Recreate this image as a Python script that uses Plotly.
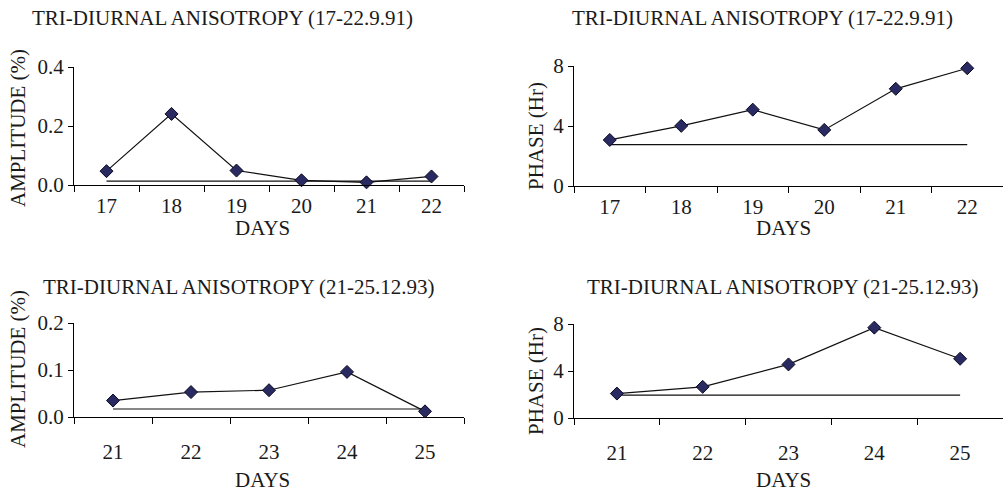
import plotly.graph_objects as go

W, H = 1003, 493
FONT = "Liberation Serif"
TXT = "#1a1a1a"
MARK = "#2a2a62"

# ---- data ----
days_a = ["17", "18", "19", "20", "21", "22"]
amp_a = [0.047, 0.241, 0.049, 0.016, 0.009, 0.029]
amp_a_ref = 0.013
phase_a = [3.07, 4.01, 5.09, 3.74, 6.48, 7.85]
phase_a_ref = 2.76

days_b = ["21", "22", "23", "24", "25"]
amp_b = [0.035, 0.053, 0.057, 0.096, 0.012]
amp_b_ref = 0.017
phase_b = [2.08, 2.65, 4.56, 7.69, 5.04]
phase_b_ref = 1.94

title_a = "TRI-DIURNAL ANISOTROPY (17-22.9.91)"
title_b = "TRI-DIURNAL ANISOTROPY (21-25.12.93)"
amp_label = "AMPLITUDE (%)"
phase_label = "PHASE (Hr)"
x_label = "DAYS"

amp_a_ticks = [0.0, 0.2, 0.4]
phase_ticks = [0, 4, 8]
amp_b_ticks = [0.0, 0.1, 0.2]

def px(x):
    return x / W

def py(y):
    return 1 - y / H

panels = [
    # (xcats, yvals, ref, yticks, ytickfmt, xdom(px), ydom(px top,bottom), standoff)
    (days_a, amp_a, amp_a_ref, amp_a_ticks, ".1f", (74, 464), (67, 185), 2),
    (days_a, phase_a, phase_a_ref, phase_ticks, "d", (574, 1003), (66, 186), 2),
    (days_b, amp_b, amp_b_ref, amp_b_ticks, ".1f", (74, 464), (323, 417), 16),
    (days_b, phase_b, phase_b_ref, phase_ticks, "d", (574, 1003), (324, 418), 16),
]

fig = go.Figure()
layout = dict(
    width=W, height=H, autosize=False, margin=dict(l=0, r=0, t=0, b=0, pad=0),
    paper_bgcolor="white", plot_bgcolor="white", showlegend=False,
    font=dict(family=FONT, size=21, color=TXT),
)

for i, (cats, vals, ref, yt, fmt, xd, yd, so) in enumerate(panels, start=1):
    xa = "x" if i == 1 else f"x{i}"
    ya = "y" if i == 1 else f"y{i}"
    fig.add_trace(go.Scatter(
        x=cats, y=[ref] * len(cats), mode="lines",
        line=dict(color="#111111", width=1.2),
        xaxis=xa, yaxis=ya, hoverinfo="skip"))
    fig.add_trace(go.Scatter(
        x=cats, y=vals, mode="lines+markers", cliponaxis=False,
        line=dict(color="#111111", width=1.2),
        marker=dict(symbol="diamond", size=10, color=MARK,
                    line=dict(color="#0a0a20", width=1)),
        xaxis=xa, yaxis=ya))
    layout["xaxis" if i == 1 else f"xaxis{i}"] = dict(
        type="category", domain=[px(xd[0]), px(xd[1])], anchor=ya,
        range=[-0.5, len(cats) - 0.5], automargin=False,
        tickson="boundaries", ticks="outside", ticklen=6, tickwidth=1,
        tickcolor="black", showline=True, linecolor="black", linewidth=1,
        showgrid=False, zeroline=False, ticklabelstandoff=so,
        tickfont=dict(family=FONT, size=21, color=TXT), fixedrange=True)
    layout["yaxis" if i == 1 else f"yaxis{i}"] = dict(
        domain=[py(yd[1]), py(yd[0])], anchor=xa, automargin=False,
        range=[yt[0], yt[-1]], tickvals=yt, tickformat=fmt,
        ticks="outside", ticklen=5, tickwidth=1, tickcolor="black",
        showline=True, linecolor="black", linewidth=1,
        showgrid=False, zeroline=False,
        tickfont=dict(family=FONT, size=21, color=TXT), fixedrange=True)

fig.update_layout(**layout)

ann = [
    (title_a, 222, 18, 0),
    (title_a, 762, 18, 0),
    (title_b, 239, 287, 0),
    (title_b, 783, 287, 0),
    (x_label, 262, 228, 0),
    (x_label, 783, 228, 0),
    (x_label, 262, 480, 0),
    (x_label, 783, 480, 0),
    (amp_label, 18, 128, -90),
    (phase_label, 536, 136, -90),
    (amp_label, 18, 369, -90),
    (phase_label, 536, 381, -90),
]
for text, x, y, rot in ann:
    fig.add_annotation(
        text=text, x=px(x), y=py(y), xref="paper", yref="paper",
        xanchor="center", yanchor="middle", showarrow=False,
        textangle=rot, font=dict(family=FONT, size=21, color=TXT))

fig.write_html("out.html", default_width=f"{W}px", default_height=f"{H}px",
               config={"responsive": False, "displayModeBar": False})
